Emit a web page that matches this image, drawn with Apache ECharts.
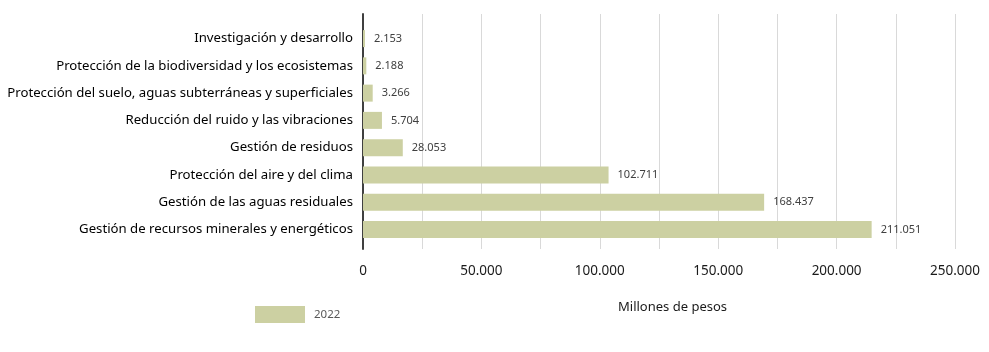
<!DOCTYPE html>
<html><head><meta charset="utf-8">
<script src="https://cdn.jsdelivr.net/npm/echarts@6/dist/echarts.min.js"></script>
<style>html,body{margin:0;padding:0;background:#fff}#c{width:989px;height:352px}</style>
</head><body><div id="c"></div>
<script>
const categories = [
  "Investigación y desarrollo",
  "Protección de la biodiversidad y los ecosistemas",
  "Protección del suelo, aguas subterráneas y superficiales",
  "Reducción del ruido y las vibraciones",
  "Gestión de residuos",
  "Protección del aire y del clima",
  "Gestión de las aguas residuales",
  "Gestión de recursos minerales y energéticos"
];
// bar lengths as drawn in the picture (millones de pesos)
const barValues = [850, 1400, 4100, 8000, 16800, 103700, 169400, 214800];
// value labels as printed
const valueLabels = ["2.153", "2.188", "3.266", "5.704", "28.053", "102.711", "168.437", "211.051"];
const seriesName = "2022";
const xTicks = [0, 50000, 100000, 150000, 200000, 250000];
const axisTitle = "Millones de pesos";

const FONT = "Noto Sans";
const fmt = v => v === 0 ? "0" : String(v).replace(/\B(?=(\d{3})+(?!\d))/g, ".");
const chart = echarts.init(document.getElementById('c'), null, {renderer: 'canvas'});
chart.setOption({
  animation: false,
  textStyle: {fontFamily: FONT},
  grid: [
    {left: 363, width: 592, top: 14, height: 235, containLabel: false, outerBoundsMode: 'none'},
    {left: 363, width: 592, top: 25, height: 218, containLabel: false, outerBoundsMode: 'none'}
  ],
  xAxis: [
    {gridIndex: 0, type: 'value', min: 0, max: 250000, interval: 25000,
     axisLine: {show: false}, axisTick: {show: false},
     splitLine: {show: true, lineStyle: {color: '#d9d9d9', width: 1}},
     axisLabel: {margin: 15, fontSize: 13.5, color: '#1a1a1a', fontFamily: FONT,
       formatter: v => xTicks.includes(v) ? fmt(v) : ''}},
    {gridIndex: 1, type: 'value', min: 0, max: 250000, show: false}
  ],
  yAxis: [
    {gridIndex: 0, type: 'value', min: 0, max: 1, show: true,
     axisLine: {show: true, lineStyle: {color: '#404040', width: 2}},
     axisTick: {show: false}, axisLabel: {show: false}, splitLine: {show: false}},
    {gridIndex: 1, type: 'category', inverse: true, data: categories,
     axisLine: {show: false}, axisTick: {show: false},
     axisLabel: {margin: 10, fontSize: 13.2, color: '#000', fontFamily: FONT}}
  ],
  legend: {
    left: 255, top: 306, padding: 0, itemWidth: 50, itemHeight: 17, itemGap: 9,
    icon: 'rect',
    textStyle: {fontSize: 11.5, color: '#595959', fontFamily: FONT, padding: [0, 0, 0, 4]},
    data: [seriesName]
  },
  graphic: [{
    type: 'text', left: 618, top: 301,
    style: {text: axisTitle, font: '13px "' + FONT + '"', fill: '#1a1a1a'}
  }],
  series: [{
    name: seriesName, type: 'bar', xAxisIndex: 1, yAxisIndex: 1,
    data: barValues, barWidth: 17,
    itemStyle: {color: '#ccd0a2'},
    label: {show: true, position: 'right', distance: 9, fontSize: 11,
      color: '#404040', fontFamily: FONT,
      formatter: p => valueLabels[p.dataIndex]}
  }]
});
</script></body></html>
